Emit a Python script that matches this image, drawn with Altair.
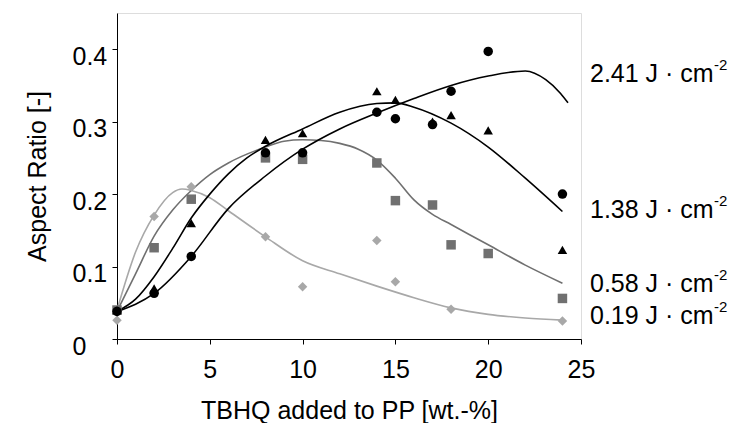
import altair as alt
import pandas as pd

# ---- measured points ----
x_241 = [0, 2, 4, 8, 10, 14, 15, 17, 18, 20, 24]
y_241 = [0.038, 0.063, 0.114, 0.257, 0.257, 0.313, 0.304, 0.296, 0.342, 0.397, 0.200]

x_138 = [0, 2, 4, 8, 10, 14, 15, 17, 18, 20, 24]
y_138 = [0.040, 0.070, 0.160, 0.275, 0.284, 0.342, 0.330, 0.300, 0.309, 0.288, 0.123]

x_058 = [0, 2, 4, 8, 10, 14, 15, 17, 18, 20, 24]
y_058 = [0.040, 0.126, 0.193, 0.250, 0.248, 0.243, 0.191, 0.185, 0.130, 0.118, 0.056]

x_019 = [0, 2, 4, 8, 10, 14, 15, 18, 24]
y_019 = [0.026, 0.169, 0.210, 0.141, 0.072, 0.136, 0.079, 0.041, 0.025]

# ---- trend curves ----
cx_241 = [0, 1, 2, 4, 6, 8, 10, 12, 14, 16, 18, 20, 22, 23.1, 23.9, 24.3]
cy_241 = [0.038, 0.048, 0.063, 0.114, 0.180, 0.225, 0.262, 0.290, 0.312, 0.332, 0.350, 0.363, 0.370, 0.358, 0.339, 0.326]

cx_138 = [0, 1, 2, 3, 4, 5, 6, 7, 8, 10, 12, 14, 15, 16, 18, 20, 22, 24]
cy_138 = [0.038, 0.055, 0.086, 0.125, 0.167, 0.200, 0.228, 0.250, 0.266, 0.290, 0.313, 0.325, 0.326, 0.320, 0.298, 0.265, 0.222, 0.176]

cx_058 = [0, 1, 2, 3, 4, 5, 6, 8, 9, 10, 11, 12, 13, 14, 15, 16, 17, 18, 20, 22, 24]
cy_058 = [0.038, 0.090, 0.142, 0.178, 0.205, 0.227, 0.243, 0.265, 0.273, 0.275, 0.274, 0.270, 0.262, 0.247, 0.222, 0.192, 0.172, 0.158, 0.130, 0.102, 0.077]

cx_019 = [0, 1, 2, 3, 3.5, 4, 5, 6, 8, 10, 12, 14, 16, 18, 20, 22, 24]
cy_019 = [0.040, 0.120, 0.171, 0.202, 0.207, 0.205, 0.195, 0.177, 0.141, 0.108, 0.090, 0.073, 0.057, 0.043, 0.034, 0.029, 0.026]

series = ["0.19", "0.58", "1.38", "2.41"]
labels = ["0.19 J · cm", "0.58 J · cm", "1.38 J · cm", "2.41 J · cm"]
label_y = [0.032, 0.076, 0.178, 0.366]
point_colors = ["#a0a0a0", "#666666", "#000000", "#000000"]
line_colors = ["#a8a8a8", "#707070", "#000000", "#000000"]
shapes = ["diamond", "square", "triangle-up", "circle"]
sizes = [90, 90, 95, 100]

FONT = "Liberation Sans"
FS = 25

pts = []
for s, xs, ys in [("0.19", x_019, y_019), ("0.58", x_058, y_058), ("1.38", x_138, y_138), ("2.41", x_241, y_241)]:
    for a, b in zip(xs, ys):
        pts.append({"s": s, "x": a, "y": b, "o": series.index(s)})
pts = pd.DataFrame(pts)

crv = []
for s, xs, ys in [("0.19", cx_019, cy_019), ("0.58", cx_058, cy_058), ("1.38", cx_138, cy_138), ("2.41", cx_241, cy_241)]:
    for a, b in zip(xs, ys):
        crv.append({"s": s, "x": a, "y": b})
crv = pd.DataFrame(crv)

lab = pd.DataFrame({"t": labels, "y": label_y})

yticks = [round(i * 0.05, 2) for i in range(10)]

xsc = alt.Scale(domain=[0, 25], nice=False, zero=False)
ysc = alt.Scale(domain=[0, 0.45], nice=False)

xaxis = alt.Axis(values=[0, 5, 10, 15, 20, 25], grid=False, domainColor="black", tickColor="black",
                 tickSize=5, labelFont=FONT, labelFontSize=FS, labelColor="black", labelPadding=13,
                 labelFlush=False, title="TBHQ added to PP [wt.-%]", titleFont=FONT, titleFontSize=FS,
                 titleFontWeight="normal", titleColor="black", titlePadding=16)
yaxis = alt.Axis(values=yticks, grid=False, domainColor="black", tickColor="black", tickSize=5,
                 labelFont=FONT, labelFontSize=FS, labelColor="black", labelPadding=40,
                 labelAlign="left", labelOffset=7,
                 labelExpr="(abs(datum.value*10 - round(datum.value*10)) < 0.001 && datum.value < 0.44) ? (datum.value == 0 ? '0' : format(datum.value, '.1f')) : ''",
                 title="Aspect Ratio [-]", titleFont=FONT, titleFontSize=FS, titleFontWeight="normal",
                 titleColor="black", titlePadding=22)

lines = alt.Chart(crv).mark_line(interpolate="monotone", strokeWidth=1.6).encode(
    x=alt.X("x:Q", scale=xsc, axis=xaxis),
    y=alt.Y("y:Q", scale=ysc, axis=yaxis),
    color=alt.Color("s:N", scale=alt.Scale(domain=series, range=line_colors), legend=None),
    detail="s:N",
)

points = alt.Chart(pts).mark_point(filled=True, opacity=1, strokeWidth=0).encode(
    x=alt.X("x:Q", scale=xsc),
    y=alt.Y("y:Q", scale=ysc),
    color=alt.Color("s:N", scale=alt.Scale(domain=series, range=point_colors), legend=None),
    shape=alt.Shape("s:N", scale=alt.Scale(domain=series, range=shapes), legend=None),
    size=alt.Size("s:N", scale=alt.Scale(domain=series, range=sizes), legend=None),
    order=alt.Order("o:Q"),
)

text = alt.Chart(lab).mark_text(align="left", baseline="middle", font=FONT, fontSize=FS, color="black").encode(
    x=alt.value(473),
    y=alt.Y("y:Q", scale=ysc),
    text="t:N",
)
sup = alt.Chart(lab).mark_text(align="left", baseline="middle", font=FONT, fontSize=15, color="black", dy=-9).encode(
    x=alt.value(597),
    y=alt.Y("y:Q", scale=ysc),
    text=alt.value("-2"),
)

chart = alt.layer(lines, points, text, sup).properties(
    width=464, height=326,
    autosize=alt.AutoSizeParams(type="none"),
    padding={"left": 109, "top": 5, "right": 147, "bottom": 84},
).configure_view(stroke=None).configure(background="white")

chart.save("out.html", embed_options={"renderer": "svg", "actions": False})
